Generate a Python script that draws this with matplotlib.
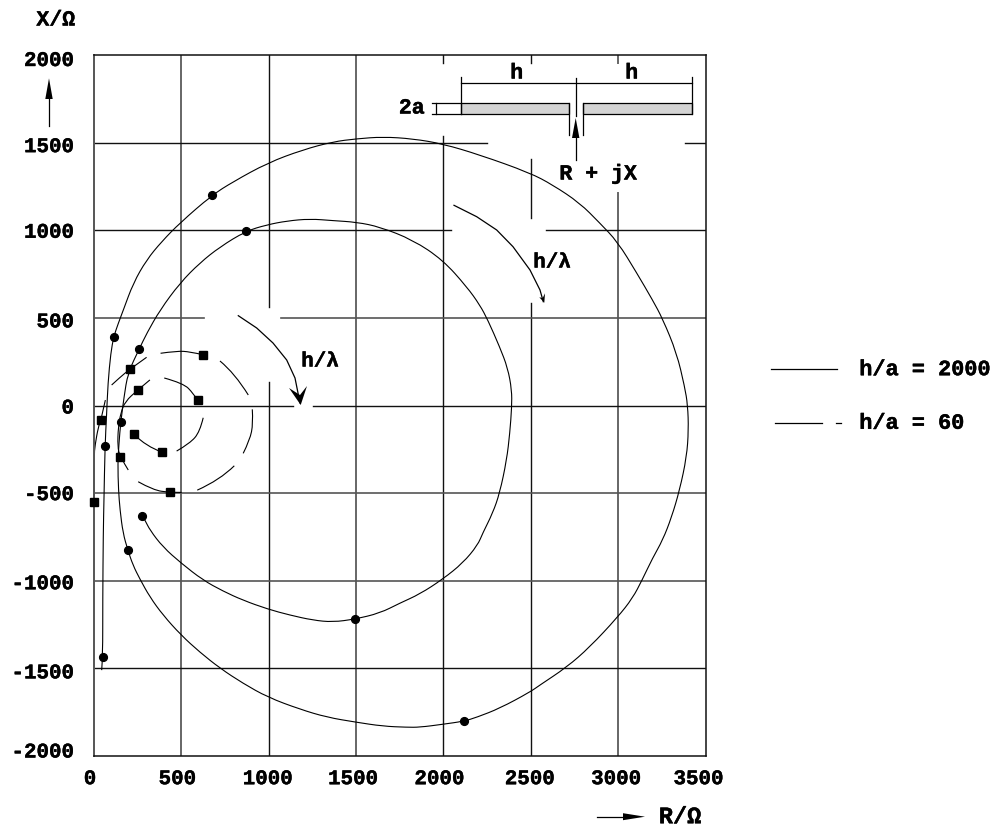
import matplotlib
matplotlib.use('Agg')
import matplotlib.pyplot as plt
import matplotlib.patheffects as pe
from matplotlib.patches import PathPatch
from matplotlib.path import Path
from matplotlib.text import Text
from matplotlib.transforms import ScaledTranslation

plt.rcParams['font.family'] = ['Liberation Mono', 'DejaVu Sans']
plt.rcParams['font.weight'] = 'bold'

# h/a = 2000, one continuous spiral
r_2000 = [44, 50, 50, 53, 57, 63, 72, 80, 96, 113, 139, 168, 225, 301, 387, 492, 675, 795, 995, 1195, 1367,
          1504, 1653, 1825, 1996, 2208, 2494, 2625, 2780, 2894, 2997, 3106, 3197, 3255, 3335, 3381, 3398,
          3403, 3392, 3352, 3306, 3255, 3197, 3137, 3083, 2997, 2837, 2706, 2551, 2494, 2322, 2191, 2116,
          1996, 1865, 1790, 1653, 1499, 1333, 1178, 995, 852, 721, 606, 498, 395, 320, 263, 223,
          193, 166, 149, 140, 136, 143, 153, 172, 194, 259, 303, 378, 492, 606, 721, 869,
          990, 1104, 1236, 1367, 1504, 1636, 1825, 1996, 2134, 2208, 2254, 2322, 2368, 2391, 2391, 2380,
          2362, 2322, 2282, 2225, 2196, 2111, 1996, 1865, 1750, 1636, 1493, 1367, 1253, 1121, 995, 852,
          738, 623, 498, 395, 320, 292, 277]
x_2000 = [-1510, -1436, -1110, -728, -540, -231, -54, 128, 300, 393, 469, 545, 699, 831, 935, 1042, 1200, 1276, 1385, 1459, 1505,
          1522, 1533, 1522, 1493, 1430, 1328, 1259, 1156, 1042, 934, 757, 602, 494, 300, 106, 3,
          -140, -294, -482, -637, -768, -871, -996, -1099, -1208, -1379, -1493, -1596, -1636, -1728, -1779, -1802,
          -1819, -1836, -1836, -1830, -1807, -1779, -1733, -1665, -1585, -1499, -1408, -1310, -1196, -1093, -991, -911,
          -823, -728, -597, -482, -328, -214, -94, 49, 186, 323, 414, 545, 699, 814, 905, 995,
          1031, 1053, 1065, 1055, 1046, 1019, 945, 831, 677, 574, 488, 334, 214, 89, -9, -157,
          -311, -500, -614, -728, -797, -899, -991, -1076, -1128, -1185, -1219, -1236, -1225, -1196, -1162, -1111,
          -1059, -996, -899, -808, -711, -654, -631]
r_2000_dots = [50, 63, 113, 675, 2116, 193, 153, 259, 869, 1493, 277]
x_2000_dots = [-1436, -231, 393, 1200, -1802, -823, -94, 323, 995, -1219, -631]

# h/a = 60, the pieces of the broken curve
r_60_parts = [
    [0, 0, 6, 25, 40, 65],
    [101, 149, 206, 301],
    [381, 473, 549, 622],
    [721, 806, 883],
    [906, 911, 892, 854],
    [803, 721, 591],
    [502, 435, 339, 253],
    [196, 149, 135, 139, 153, 177, 252, 320],
    [402, 511, 568, 593],
    [625, 606, 549, 473],
    [387, 301, 227],
]
x_60_parts = [
    [-553, -292, -226, -121, -83, 31],
    [117, 161, 208, 275],
    [298, 311, 307, 290],
    [254, 184, 60],
    [-22, -102, -197, -273],
    [-344, -425, -483],
    [-496, -496, -483, -435],
    [-368, -292, -235, -121, -45, 22, 90, 146],
    [157, 127, 70, 30],
    [-70, -150, -216, -260],
    [-265, -235, -164],
]
r_60_squares = [0, 40, 206, 622, 252, 593, 227, 387, 149, 435]
x_60_squares = [-553, -83, 208, 290, 90, 30, -164, -265, -292, -496]

r_ticks = [0, 500, 1000, 1500, 2000, 2500, 3000, 3500]
x_ticks = [2000, 1500, 1000, 500, 0, -500, -1000, -1500, -2000]
x_tick_labels = ['2000', '1500', '1000', '500', '0', '-500', '-1000', '-1500', '-2000']

# grid lines are broken where the drawing was masked for the annotations
v_grid = {500: [(-2000, 2000)], 1000: [(-2000, 136), (562, 2000)], 1500: [(-2000, 2000)],
          2000: [(-2000, 1540), (1955, 2000)], 2500: [(-2000, 585), (1071, 1407), (1955, 2000)],
          3000: [(-2000, 1213), (1955, 2000)]}
h_grid = {1500: [(0, 2248), (3380, 3500)], 1000: [(0, 2042), (2585, 3500)], 500: [(0, 629), (1070, 3500)],
          0: [(0, 1138), (1253, 3500)], -500: [(0, 3500)], -1000: [(0, 3500)], -1500: [(0, 3500)]}
# these come out softer in the scan
v_soft = [500, 1500, 3000]
h_soft = [500, -500, -1000]


def draw_grid(ax):
    """
    Draws the broken grid lines by hand
    :param ax: the chart axes
    :return: None
    """
    for r, spans in v_grid.items():
        style = dict(color='#666666', lw=1.4) if r in v_soft else dict(color='#111111', lw=1.0)
        for start, end in spans:
            ax.plot([r, r], [start, end], zorder=1, **style)
    for x, spans in h_grid.items():
        style = dict(color='#555555', lw=1.2) if x in h_soft else dict(color='#111111', lw=1.0)
        for start, end in spans:
            ax.plot([start, end], [x, x], zorder=1, **style)


def draw_curve(ax, r, x):
    """
    Draws a curve through the read points as quadratic segments so it does not look polygonal
    :param ax: the chart axes
    :param r: list of resistance values
    :param x: list of reactance values
    :return: None
    """
    verts = [(r[0], x[0])]
    codes = [Path.MOVETO]
    for i in range(1, len(r) - 2):
        verts += [(r[i], x[i]), ((r[i] + r[i + 1]) / 2, (x[i] + x[i + 1]) / 2)]
        codes += [Path.CURVE3, Path.CURVE3]
    verts += [(r[-2], x[-2]), (r[-1], x[-1])]
    codes += [Path.CURVE3, Path.CURVE3]
    ax.add_patch(PathPatch(Path(verts, codes), fill=False, edgecolor='black', lw=0.8, zorder=2, clip_on=False))


def shift_labels(labels, shifts, fig, vertical):
    """
    Moves tick labels a few pixels, they are not centred on the lines in the original
    :param labels: the tick labels
    :param shifts: offsets in pixels
    :param fig: the figure
    :param vertical: True to move along y
    :return: None
    """
    for label, s in zip(labels, shifts):
        dx, dy = (0, -s / 100) if vertical else (s / 100, 0)
        label.set_transform(label.get_transform() + ScaledTranslation(dx, dy, fig.dpi_scale_trans))


def draw_arrow_head(ov, tip, left, notch, right):
    ov.fill([tip[0], left[0], notch[0], right[0]], [tip[1], left[1], notch[1], right[1]], color='black', lw=0)


def draw_annotations(ov):
    """
    Everything outside the data: dipole sketch, legend, arrows. Works in pixels of the picture.
    :param ov: overlay axes covering the figure
    :return: None
    """
    line = dict(color='black', lw=0.9)

    # dipole
    ov.plot([461, 691.7], [82.7, 82.7], **line)
    ov.plot([461, 461], [77, 114], **line)
    ov.plot([691.7, 691.7], [77, 114], **line)
    ov.plot([575.7, 575.7], [78, 116], **line)
    ov.fill([461, 569.3, 569.3, 461], [103.3, 103.3, 114, 114], facecolor='#d4d4d4', edgecolor='black', lw=0.9)
    ov.fill([582.7, 691.7, 691.7, 582.7], [103.3, 103.3, 114, 114], facecolor='#d4d4d4', edgecolor='black', lw=0.9)
    ov.plot([569.3, 569.3], [103.3, 135], **line)
    ov.plot([582.7, 582.7], [103.3, 135], **line)
    ov.plot([431.7, 461], [103.3, 103.3], **line)
    ov.plot([431.7, 461], [114, 114], **line)
    ov.plot([435.7, 435.7], [103.3, 114], **line)
    ov.plot([575.7, 575.7], [136, 160], **line)
    draw_arrow_head(ov, (575.7, 118), (572, 138), (575.7, 138), (579.4, 138))

    ov.text(411.7, 108, '2a', fontsize=15.5, ha='center', va='center')
    ov.text(516.7, 73, 'h', fontsize=15.5, ha='center', va='center')
    ov.text(631.7, 73, 'h', fontsize=15.5, ha='center', va='center')
    ov.text(598, 174, 'R + jX', fontsize=15.5, ha='center', va='center')

    # frequency arrows
    ov.plot([238.3, 256.7, 273, 286.7, 295, 300], [315.7, 328, 343, 360, 378, 403], **line)
    draw_arrow_head(ov, (300.7, 405), (289, 388), (300, 395), (307, 386))
    ov.text(320, 361, 'h/λ', fontsize=15, ha='center', va='center')
    ov.plot([454, 476.7, 496.7, 513, 530, 540, 543.3], [205.3, 216.7, 230, 246.7, 270, 290, 301.7], **line)
    draw_arrow_head(ov, (544.3, 302.7), (539.3, 297.3), (542.7, 298), (545, 293.3))
    ov.text(552, 262, 'h/λ', fontsize=15, ha='center', va='center')

    # axis names
    ov.text(55.7, 20, 'X/Ω', fontsize=15.5, ha='center', va='center')
    ov.plot([49, 49], [126, 98], **line)
    draw_arrow_head(ov, (49, 78.3), (45.3, 99), (49, 99), (52.7, 99))
    ov.text(680, 816.7, 'R/Ω', fontsize=17, ha='center', va='center')
    ov.plot([596.7, 624], [816.7, 816.7], **line)
    draw_arrow_head(ov, (645, 816.7), (623, 813.2), (623, 816.7), (623, 820.2))

    # legend
    ov.plot([771, 836.7], [369.3, 369.3], **line)
    ov.plot([775, 821.7], [423.3, 423.3], **line)
    ov.plot([836, 840.7], [423.3, 423.3], **line)
    ov.text(859.3, 369.7, 'h/a = 2000', fontsize=15.75, ha='left', va='center')
    ov.text(859.3, 423.3, 'h/a = 60', fontsize=15.75, ha='left', va='center')


def main():
    fig = plt.figure(figsize=(9.94, 8.27), dpi=100)
    ax = fig.add_axes([94 / 994, 1 - 756 / 827, 611.5 / 994, 701 / 827])
    ax.set_xlim(0, 3500)
    ax.set_ylim(-2000, 2000)
    for spine in ax.spines.values():
        spine.set_linewidth(1.1)
        spine.set_color('#111111')
    ax.spines['left'].set_color('#555555')
    ax.spines['left'].set_linewidth(1.4)

    ax.set_xticks(r_ticks)
    ax.set_yticks(x_ticks)
    ax.set_yticklabels(x_tick_labels)
    ax.tick_params(axis='both', length=0, labelsize=15)
    ax.tick_params(axis='y', pad=14.4)
    ax.tick_params(axis='x', pad=9.5)
    shift_labels(ax.get_yticklabels(), [3.5, 2, 0, 2, 0.5, -0.5, 1, 2.5, -6], fig, True)
    shift_labels(ax.get_xticklabels(), [-4, -4, -1, -3, -4, -1, -2, -7], fig, False)

    draw_grid(ax)

    draw_curve(ax, r_2000, x_2000)
    ax.plot(r_2000_dots, x_2000_dots, 'o', color='black', ms=5.6, zorder=3)
    for r_part, x_part in zip(r_60_parts, x_60_parts):
        draw_curve(ax, r_part, x_part)
    ax.plot(r_60_squares, x_60_squares, 's', color='black', ms=5.4, zorder=3, clip_on=False)

    ov = fig.add_axes([0, 0, 1, 1])
    ov.set_xlim(0, 994)
    ov.set_ylim(827, 0)
    ov.axis('off')
    draw_annotations(ov)

    # the original lettering is heavier than Liberation Mono Bold
    for text in fig.findobj(Text):
        text.set_path_effects([pe.withStroke(linewidth=0.3, foreground='black')])

    fig.savefig('out.png', dpi=100)


main()
